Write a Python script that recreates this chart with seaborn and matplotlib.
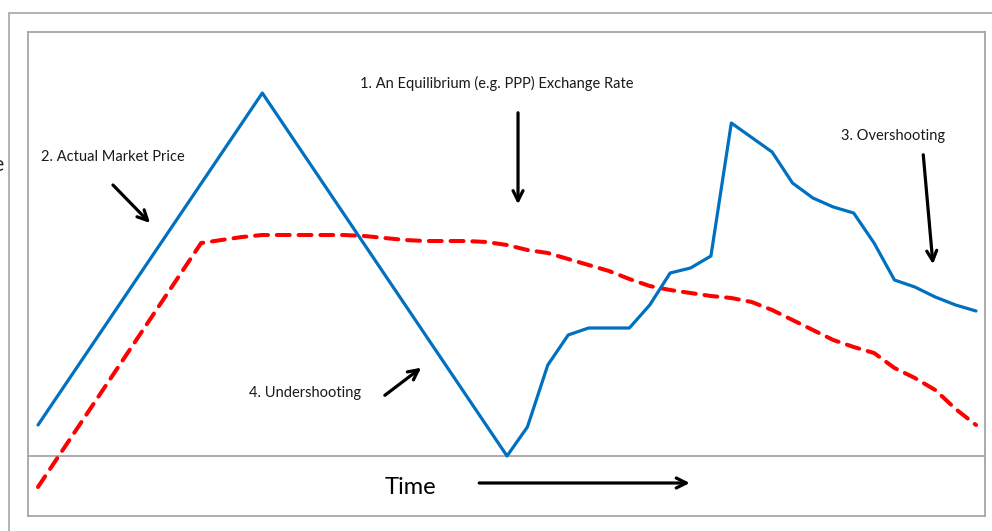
import numpy as np
import pandas as pd
import matplotlib.pyplot as plt
import matplotlib.patches as mpatches
import seaborn as sns

# --- dados ---
# preço de mercado (linha azul)
t_mercado = [0, 11, 23, 24, 25, 26, 27, 29, 30, 31, 32, 33, 34, 36, 37, 38,
             39, 40, 41, 42, 43, 44, 45, 46]
v_mercado = [3.1, 36.3, 0.0, 2.9, 9.1, 12.1, 12.8, 12.8, 15.1, 18.3, 18.8,
             20.0, 33.3, 30.4, 27.3, 25.8, 24.9, 24.3, 21.3, 17.6, 16.9,
             15.9, 15.1, 14.5]

# taxa de equilíbrio (linha vermelha tracejada)
t_equil = [0, 8, 9, 10, 11, 12, 13, 14, 15, 16, 17, 18, 19, 20, 21, 22, 23,
           24, 25, 26, 27, 28, 29, 30, 31, 32, 33, 34, 35, 36, 37, 38, 39,
           40, 41, 42, 43, 44, 45, 46]
v_equil = [-3.1, 21.3, 21.6, 21.9, 22.1, 22.1, 22.1, 22.1, 22.1, 22.0, 21.8,
           21.6, 21.5, 21.5, 21.5, 21.4, 21.1, 20.6, 20.3, 19.7, 19.1, 18.5,
           17.7, 17.0, 16.6, 16.3, 16.0, 15.8, 15.4, 14.6, 13.6, 12.6, 11.6,
           10.9, 10.3, 8.8, 7.8, 6.6, 4.7, 3.1]

rotulos = ['1. An Equilibrium (e.g. PPP) Exchange Rate',
           '2. Actual Market Price',
           '3. Overshooting',
           '4. Undershooting']

df_mercado = pd.DataFrame({'t': t_mercado, 'v': v_mercado})
df_equil = pd.DataFrame({'t': t_equil, 'v': v_equil})

sns.set_theme(style="white")
plt.rcParams['font.family'] = ['Lato', 'DejaVu Sans']

fig = plt.figure(figsize=(9.92, 5.31), dpi=100)
W, H = 992, 531
ax = fig.add_axes([28 / W, 1 - 516 / H, (985 - 28) / W, (516 - 32) / H])

# moldura externa
fig.patches.append(mpatches.Rectangle((9 / W, -0.1), 1.2, 1 - 13 / H + 0.1,
                                      transform=fig.transFigure, fill=False,
                                      edgecolor='#a6a6a6', lw=1.2))

sns.lineplot(data=df_equil, x='t', y='v', ax=ax, color='#FF0000', lw=2.9,
             dashes=False, linestyle=(0, (3.2, 2.2)), dash_capstyle='round')
sns.lineplot(data=df_mercado, x='t', y='v', ax=ax, color='#0070C0', lw=2.3)

ax.axhline(0, color='#a6a6a6', lw=1.3, zorder=0)
ax.set_xlim(-0.49, 46.44)
ax.set_ylim(-6.0, 42.4)
ax.set_xticks([])
ax.set_yticks([])
ax.set_xlabel('')
ax.set_ylabel('')
for s in ax.spines.values():
    s.set_color('#a6a6a6')
    s.set_linewidth(1.3)

cor_txt = '#1a1a1a'
ax.text(22.5, 37.3, rotulos[0], ha='center', va='center', fontsize=10.5, color=cor_txt)
ax.text(0.15, 29.9, rotulos[1], ha='left', va='center', fontsize=10.5, color=cor_txt)
ax.text(39.4, 32.0, rotulos[2], ha='left', va='center', fontsize=10.5, color=cor_txt)
ax.text(10.35, 6.3, rotulos[3], ha='left', va='center', fontsize=10.5, color=cor_txt)
ax.text(17.0, -3.1, 'Time', ha='left', va='center', fontsize=17, color='black')

seta = dict(arrowstyle='->', color='black', lw=2.3, mutation_scale=18)
ax.annotate('', xy=(23.54, 24.9), xytext=(23.54, 34.6), arrowprops=seta)
ax.annotate('', xy=(5.59, 23.1), xytext=(3.58, 27.3), arrowprops=seta)
ax.annotate('', xy=(43.9, 18.9), xytext=(43.4, 30.4), arrowprops=seta)
ax.annotate('', xy=(18.9, 9.0), xytext=(16.9, 5.9), arrowprops=seta)
ax.annotate('', xy=(32.1, -2.7), xytext=(21.5, -2.7), arrowprops=seta)

# rótulo do eixo y cortado na borda
fig.text(4 / W, 1 - 165 / H, 'Exchange Rate', ha='right', va='center', fontsize=15)

fig.savefig('out.png', dpi=100)
